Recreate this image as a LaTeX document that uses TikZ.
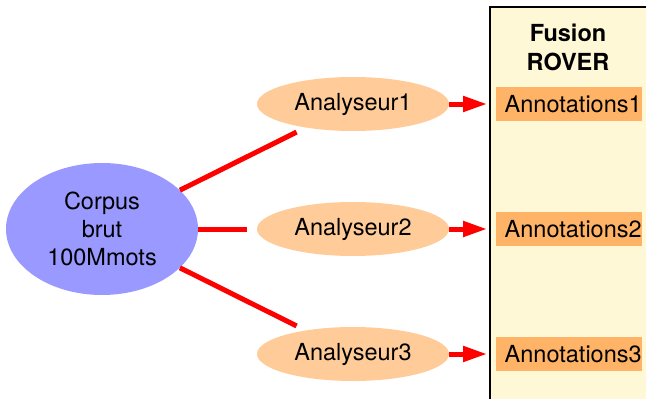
\documentclass[tikz,border=0pt]{standalone}
\usepackage{fontspec}
\setmainfont{TeX Gyre Heros}
\usetikzlibrary{shapes.geometric,arrows.meta}
\definecolor{corpusblue}{HTML}{9999FF}
\definecolor{analyser}{HTML}{FFCC99}
\definecolor{annotbox}{HTML}{FFB366}
\definecolor{panelfill}{HTML}{FFF8D6}
\tikzset{
  txt/.style={font=\fontsize{23.5}{28}\selectfont},
  corpusnode/.style={txt, ellipse, fill=corpusblue, minimum width=192pt, minimum height=132pt, inner sep=0pt, align=center},
  analysernode/.style={txt, ellipse, fill=analyser, minimum width=192pt, minimum height=54pt, inner sep=0pt},
  annotnode/.style={txt, rectangle, fill=annotbox, minimum width=146pt, minimum height=34pt, inner sep=0pt, anchor=west},
  feed/.style={red, line width=5pt, shorten >=10pt},
  pass/.style={red, line width=5pt, shorten >=9pt, -{Triangle[length=24pt,width=15pt]}},
}
\begin{document}
\begin{tikzpicture}[x=1pt, y=-1pt]
  \useasboundingbox (0,0) rectangle (646,399);

  % fusion panel (open on the right and at the bottom)
  \fill[panelfill] (490,7) rectangle (646,399);
  \draw[black, line width=2pt] (646,7) -- (490,7) -- (490,399);
  \node[txt, font=\fontsize{23.5}{29}\selectfont\bfseries, align=center] (fusion) at (568,47) {Fusion\\ROVER};

  % corpus
  \node[corpusnode] (corpus) at (102,229) {Corpus\\brut\\100Mmots};

  % analysers
  \node[analysernode] (a1) at (353,104) {Analyseur1};
  \node[analysernode] (a2) at (353,229) {Analyseur2};
  \node[analysernode] (a3) at (353,354) {Analyseur3};

  % annotation outputs
  \node[annotnode] (n1) at (496,104) {\hspace{8pt}Annotations1};
  \node[annotnode] (n2) at (496,229) {\hspace{8pt}Annotations2};
  \node[annotnode] (n3) at (496,354) {\hspace{8pt}Annotations3};

  % corpus to analysers
  \draw[feed] (corpus) -- (a1);
  \draw[feed] (corpus) -- (a2);
  \draw[feed] (corpus) -- (a3);

  % analysers to annotations
  \draw[pass] (a1) -- (n1);
  \draw[pass] (a2) -- (n2);
  \draw[pass] (a3) -- (n3);
\end{tikzpicture}
\end{document}
